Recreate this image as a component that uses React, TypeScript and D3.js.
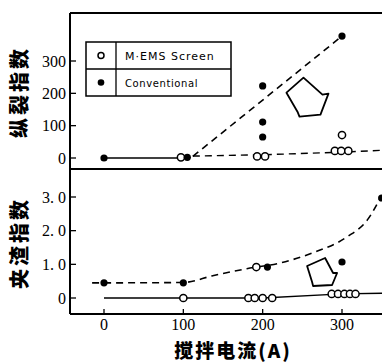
import React from "react";
import * as d3 from "d3";

// x: 搅拌电流 (A)
const xTicks = [0, 100, 200, 300];

// 纵裂指数 (upper panel)
const crackTicks = [0, 100, 200, 300];
const crackConv = [[0, 0], [105, 2], [200, 223], [200, 111], [200, 65], [300, 377]];
const crackEms = [[97, 2], [193, 5], [203, 5], [300, 71], [291, 22], [299, 22], [308, 22]];
const crackConvTrend = [[112, 5], [300, 377]];
const crackEmsTrend = [[112, 6], [200, 10], [300, 18], [370, 26]];
const crackSolid = [[0, 0], [100, 0]];

// 夹渣指数 (lower panel)
const slagTicks = [0, 1, 2, 3];
const slagTickLabels = ["0", "1. 0", "2. 0", "3. 0"];
const slagConv = [[0, 0.45], [100, 0.45], [206, 0.92], [300, 1.07], [350, 2.97]];
const slagEms = [
  [100, 0], [192, 0.92], [182, 0], [190, 0], [200, 0], [212, 0],
  [287, 0.12], [295, 0.12], [303, 0.12], [310, 0.12], [317, 0.12],
];
const slagConvCurve = [
  [-15, 0.45], [0, 0.45], [100, 0.46], [137, 0.66], [180, 0.87], [222, 1.04],
  [263, 1.34], [306, 1.81], [332, 2.32], [350, 3.05],
];
const slagEmsLine = [[0, 0], [100, 0], [200, 0], [300, 0.12], [370, 0.15]];

const W = 382;
const H = 362;
const frameLeft = 70;
const frameTop = 13;
const divider = 169;
const frameBottom = 314;

const serif = "'Liberation Serif', 'DejaVu Serif', serif";
const cjk = "'Noto Sans CJK SC', sans-serif";

export default function App() {
  const x = d3.scaleLinear().domain([0, 300]).range([104, 342]);
  const yTop = d3.scaleLinear().domain([0, 300]).range([158, 61]);
  const yBot = d3.scaleLinear().domain([0, 3]).range([298, 197]);

  const lineTop = d3.line<number[]>().x((d) => x(d[0])).y((d) => yTop(d[1]));
  const lineBot = d3.line<number[]>().x((d) => x(d[0])).y((d) => yBot(d[1]));
  const curveBot = d3
    .line<number[]>()
    .x((d) => x(d[0]))
    .y((d) => yBot(d[1]))
    .curve(d3.curveMonotoneX);

  // hollow block arrows, anchored in data units, shape in px
  const arrowTop = "M0,0 L17,-15 L36,2 L42,1 L34,22 L13,24 L11,19 Z";
  const arrowBot = "M0,0 L18,-8 L26,7 L30,7 L25,19 L6,20 L5,16 Z";

  const r = 3.6;

  return (
    <svg
      width={W}
      height={H}
      style={{ position: "absolute", left: 0, top: 0, background: "#fff" }}
    >
      <rect width={W} height={H} fill="#fff" />

      {/* frame */}
      <g stroke="#000" strokeWidth={2} fill="none">
        <line x1={frameLeft} y1={frameTop} x2={W} y2={frameTop} />
        <line x1={frameLeft} y1={divider} x2={W} y2={divider} />
        <line x1={frameLeft} y1={frameBottom} x2={W} y2={frameBottom} />
        <line x1={frameLeft} y1={frameTop} x2={frameLeft} y2={frameBottom} />
      </g>

      {/* upper y ticks */}
      {crackTicks.map((t) => (
        <g key={"ct" + t}>
          <line x1={frameLeft} x2={frameLeft + 6} y1={yTop(t)} y2={yTop(t)} stroke="#000" strokeWidth={1.3} />
          <text x={frameLeft - 4} y={yTop(t) + 5.5} textAnchor="end" fontFamily={serif} fontSize={16}>
            {t}
          </text>
        </g>
      ))}

      {/* lower y ticks */}
      {slagTicks.map((t, i) => (
        <g key={"st" + t}>
          <line x1={frameLeft} x2={frameLeft + 6} y1={yBot(t)} y2={yBot(t)} stroke="#000" strokeWidth={1.3} />
          <text
            x={frameLeft - 4}
            y={yBot(t) + 5.5}
            textAnchor="end"
            fontFamily={serif}
            fontSize={16}
            style={{ whiteSpace: "pre" }}
          >
            {slagTickLabels[i]}
          </text>
        </g>
      ))}

      {/* x ticks */}
      {xTicks.map((t) => (
        <g key={"xt" + t}>
          <line x1={x(t)} x2={x(t)} y1={frameBottom} y2={frameBottom - 5} stroke="#000" strokeWidth={1.3} />
          <text x={x(t)} y={frameBottom + 16} textAnchor="middle" fontFamily={serif} fontSize={16}>
            {t}
          </text>
        </g>
      ))}

      {/* axis titles */}
      <text
        transform={`translate(27,92) rotate(-90)`}
        textAnchor="middle"
        fontFamily={cjk}
        fontWeight={900}
        fontSize={20}
        letterSpacing={3}
      >
        纵裂指数
      </text>
      <text
        transform={`translate(27,243) rotate(-90)`}
        textAnchor="middle"
        fontFamily={cjk}
        fontWeight={900}
        fontSize={20}
        letterSpacing={3}
      >
        夹渣指数
      </text>
      <text x={233} y={358} textAnchor="middle" fontFamily={cjk} fontWeight={900} fontSize={19} letterSpacing={2}>
        搅拌电流(A)
      </text>

      {/* upper panel lines */}
      <g fill="none" stroke="#000">
        <path d={lineTop(crackSolid) ?? ""} strokeWidth={1.3} />
        <path d={lineTop(crackConvTrend) ?? ""} strokeWidth={1.6} strokeDasharray="7,5" />
        <path d={lineTop(crackEmsTrend) ?? ""} strokeWidth={1.4} strokeDasharray="7,5" />
      </g>
      {crackEms.map((d, i) => (
        <circle key={"ce" + i} cx={x(d[0])} cy={yTop(d[1])} r={r} fill="#fff" stroke="#000" strokeWidth={1.5} />
      ))}
      {crackConv.map((d, i) => (
        <circle key={"cc" + i} cx={x(d[0])} cy={yTop(d[1])} r={r} fill="#000" />
      ))}

      {/* lower panel lines */}
      <g fill="none" stroke="#000">
        <path d={lineBot(slagEmsLine) ?? ""} strokeWidth={1.3} />
        <path d={curveBot(slagConvCurve) ?? ""} strokeWidth={1.6} strokeDasharray="7,5" />
      </g>
      {slagEms.map((d, i) => (
        <circle key={"se" + i} cx={x(d[0])} cy={yBot(d[1])} r={r} fill="#fff" stroke="#000" strokeWidth={1.5} />
      ))}
      {slagConv.map((d, i) => (
        <circle key={"sc" + i} cx={x(d[0])} cy={yBot(d[1])} r={r} fill="#000" />
      ))}

      {/* arrows */}
      <path
        d={arrowTop}
        transform={`translate(${x(230)},${yTop(202)})`}
        fill="#fff"
        stroke="#000"
        strokeWidth={1.8}
        strokeLinejoin="round"
      />
      <path
        d={arrowBot}
        transform={`translate(${x(256)},${yBot(0.95)})`}
        fill="#fff"
        stroke="#000"
        strokeWidth={1.8}
        strokeLinejoin="round"
      />

      {/* legend */}
      <g>
        <rect x={86} y={42} width={145} height={54} fill="#fff" stroke="#000" strokeWidth={1.5} />
        <line x1={86} x2={231} y1={69} y2={69} stroke="#000" strokeWidth={1.3} />
        <line x1={116} x2={116} y1={42} y2={96} stroke="#000" strokeWidth={1.3} />
        <circle cx={101} cy={55.5} r={3} fill="#fff" stroke="#000" strokeWidth={1.5} />
        <circle cx={101} cy={82.5} r={3.3} fill="#000" />
        <text x={125} y={59.5} fontFamily="'DejaVu Sans', sans-serif" fontSize={11} letterSpacing={1}>
          M·EMS Screen
        </text>
        <text x={125} y={86.5} fontFamily="'DejaVu Sans', sans-serif" fontSize={10} letterSpacing={0.6}>
          Conventional
        </text>
      </g>
    </svg>
  );
}
